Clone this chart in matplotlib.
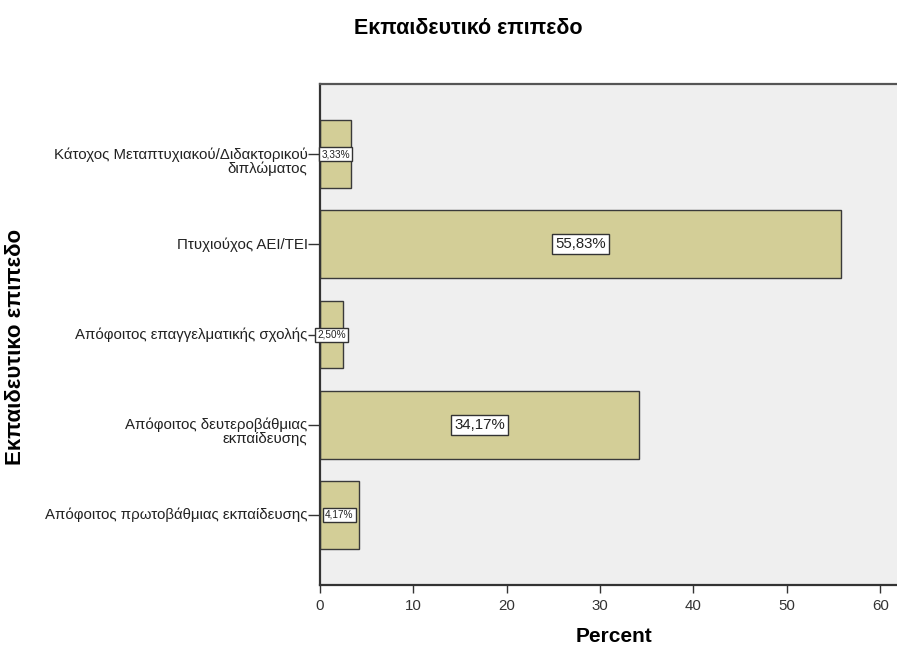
import matplotlib.pyplot as plt

# Δεδομένα
kategories = [
    'Κάτοχος Μεταπτυχιακού/Διδακτορικού\nδιπλώματος',
    'Πτυχιούχος ΑΕΙ/ΤΕΙ',
    'Απόφοιτος επαγγελματικής σχολής',
    'Απόφοιτος δευτεροβάθμιας\nεκπαίδευσης',
    'Απόφοιτος πρωτοβάθμιας εκπαίδευσης',
]
pososta = [3.33, 55.83, 2.50, 34.17, 4.17]
etiketes = ['3,33%', '55,83%', '2,50%', '34,17%', '4,17%']
x_ticks = [0, 10, 20, 30, 40, 50, 60]

plt.rcParams['font.family'] = ['Liberation Sans', 'DejaVu Sans']

fig = plt.figure(figsize=(8.97, 6.51), dpi=100)
ax = fig.add_axes([320 / 897, 1 - 585 / 651, 1 - 320 / 897, (585 - 84) / 651])
ax.set_facecolor('#efefef')

thesis = list(range(len(kategories)))
ax.barh(thesis, pososta, height=0.75, color='#d3ce97', edgecolor='#3a3a3a', linewidth=1.0)

# Ετικέτες τιμών μέσα στις μπάρες
for y, v, t in zip(thesis, pososta, etiketes):
    megethos = 10.8 if v > 10 else 7.2
    ax.text(v / 2, y, t, ha='center', va='center', fontsize=megethos, color='#222222',
            bbox=dict(boxstyle='square,pad=0.2', facecolor='white', edgecolor='#333333', linewidth=1.0))

ax.set_xlim(0, 61.8)
ax.set_ylim(4.776, -0.776)
ax.set_xticks(x_ticks)
ax.set_xticklabels([str(t) for t in x_ticks], fontsize=10.8, color='#333333')
ax.set_yticks(thesis)
ax.set_yticklabels([])

# Ετικέτες κατηγοριών (η πρώτη γραμμή στο ύψος της υποδιαίρεσης)
for y, kat in zip(thesis, kategories):
    metatopisi = -5.4 if '\n' in kat else 0
    ax.annotate(kat, xy=(0, y), xycoords=('axes fraction', 'data'),
                xytext=(-9, metatopisi), textcoords='offset points',
                ha='right', va='center', fontsize=10.8, color='#222222',
                linespacing=1.0, multialignment='right', annotation_clip=False)

ax.tick_params(axis='y', length=9, width=1.0, color='#333333', pad=1)
ax.tick_params(axis='x', length=6, width=1.0, color='#333333', pad=4)

for s in ['left', 'bottom']:
    ax.spines[s].set_linewidth(1.6)
    ax.spines[s].set_color('#333333')
ax.spines['top'].set_linewidth(1.6)
ax.spines['top'].set_color('#555555')
ax.spines['right'].set_visible(False)

fig.text(468 / 897, 1 - 28 / 651, 'Εκπαιδευτικό επιπεδο', ha='center', va='center',
         fontsize=15.5, fontweight='bold')
fig.text(614 / 897, 1 - 637 / 651, 'Percent', ha='center', va='center',
         fontsize=15, fontweight='bold')
fig.text(16 / 897, 1 - 347 / 651, 'Εκπαιδευτικο επιπεδο', ha='center', va='center',
         rotation=90, fontsize=16, fontweight='bold')

fig.savefig('out.png', dpi=100)
